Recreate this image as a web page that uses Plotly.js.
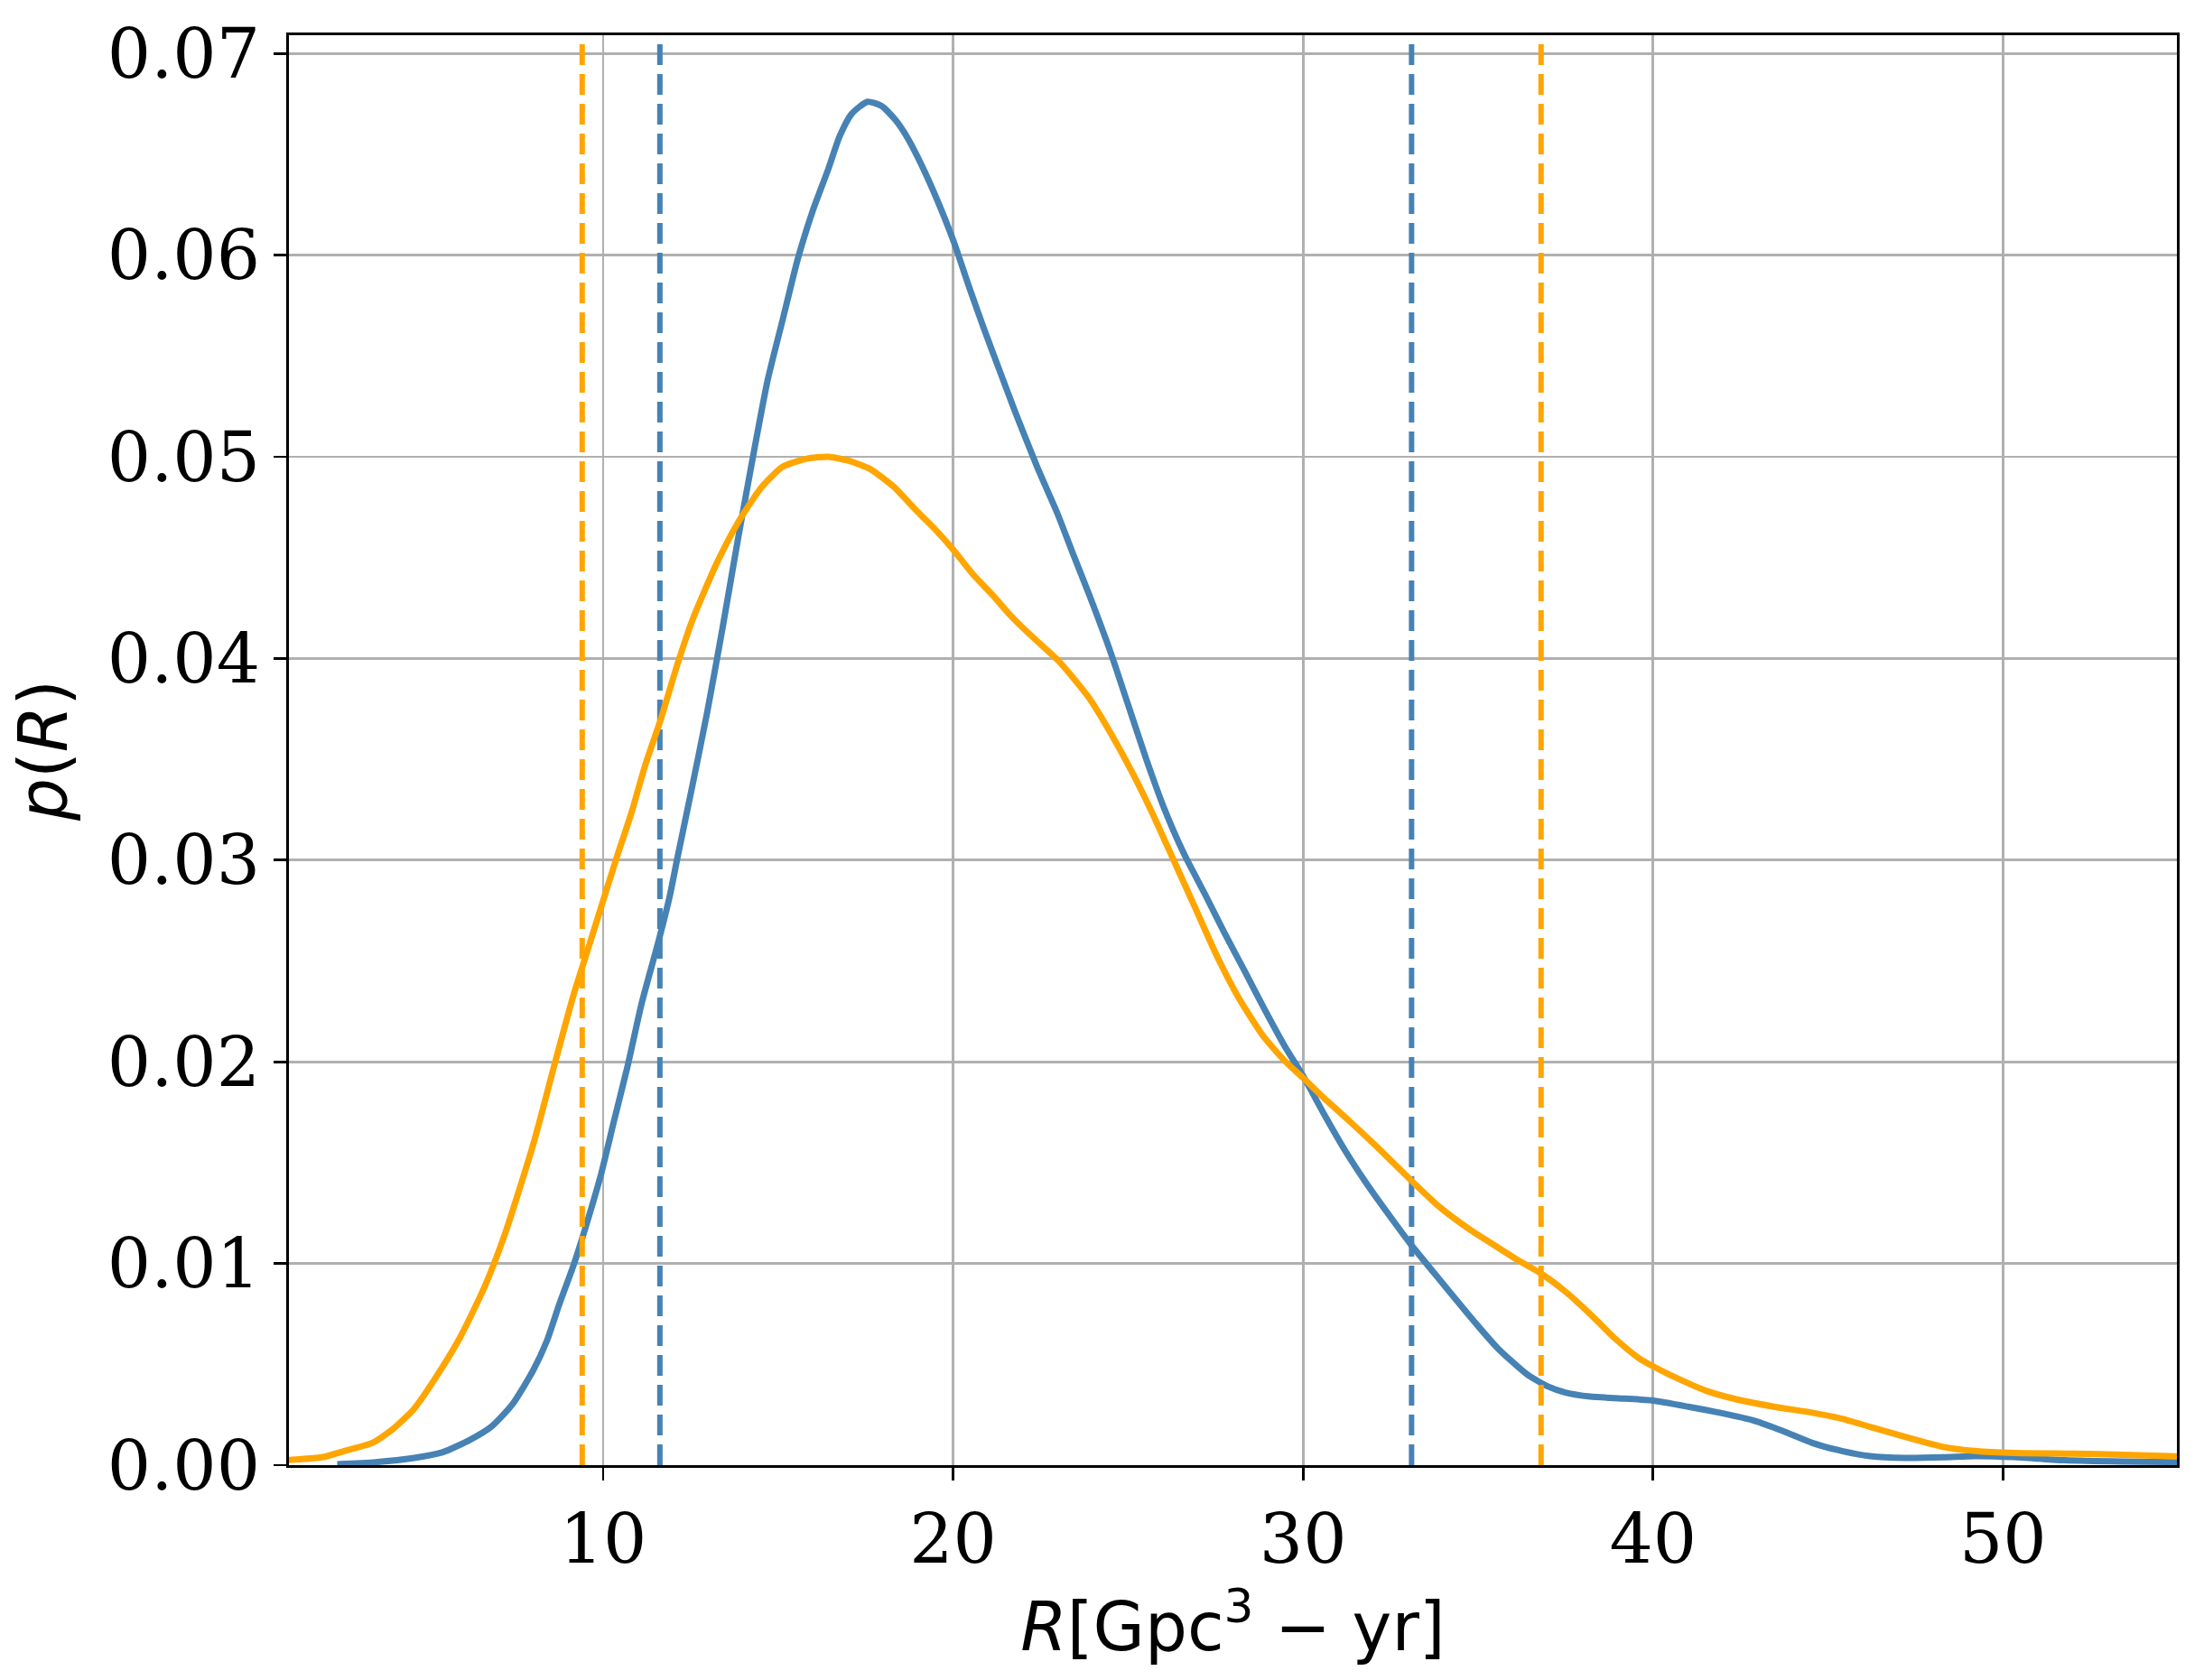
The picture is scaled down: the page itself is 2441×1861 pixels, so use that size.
<!DOCTYPE html>
<html>
<head>
<meta charset="utf-8">
<script src="https://cdn.plot.ly/plotly-3.0.1.min.js"></script>
<style>
  html, body { margin: 0; padding: 0; background: #ffffff; }
  #chart { width: 2441px; height: 1861px; }
</style>
</head>
<body>
<div id="chart"></div>
<script>
// ---- Data ----
const rBlue = [2.4, 3.5, 4.6, 5.4, 6.2, 6.8, 7.4, 8.0, 8.4, 8.75, 9.15, 9.55, 9.95, 10.3, 10.7, 11.1, 11.6, 11.9, 12.12, 12.55, 12.98, 13.41, 13.84, 14.27, 14.7, 15.13, 15.56, 15.99, 16.42, 16.76, 17.1, 17.55, 17.95, 18.35, 18.7, 19.17, 19.6, 20.03, 20.46, 20.89, 21.3, 21.8, 22.4, 22.7, 23.0, 23.4, 23.9, 24.5, 25.0, 25.5, 26.0, 26.6, 27.2, 27.75, 28.3, 28.9, 29.5, 30.0, 30.6, 31.2, 31.8, 32.5, 33.1, 33.9, 34.95, 35.56, 36.4, 37.0, 37.5, 38.2, 39.2, 40.0, 41.0, 41.9, 42.9, 43.7, 44.55, 45.4, 46.2, 47.2, 48.3, 49.2, 50.3, 51.7, 53.4, 55.0];
const pBlue = [0.00005, 0.00015, 0.00036, 0.00063, 0.00126, 0.0019, 0.0030, 0.0047, 0.0062, 0.0080, 0.0099, 0.0121, 0.0145, 0.0170, 0.0198, 0.0229, 0.0261, 0.0282, 0.0301, 0.0337, 0.0374, 0.0415, 0.0458, 0.0499, 0.0538, 0.0568, 0.0598, 0.0622, 0.0642, 0.0659, 0.0670, 0.0676, 0.0674, 0.0667, 0.0658, 0.0642, 0.0625, 0.0606, 0.0584, 0.0563, 0.0544, 0.0521, 0.0495, 0.0483, 0.0471, 0.0453, 0.0431, 0.0403, 0.0377, 0.0351, 0.0327, 0.0303, 0.0283, 0.0264, 0.0246, 0.0226, 0.0207, 0.0193, 0.0174, 0.0156, 0.0140, 0.0123, 0.0109, 0.0092, 0.0070, 0.0058, 0.0045, 0.0039, 0.0036, 0.0034, 0.0033, 0.0032, 0.0029, 0.0026, 0.0022, 0.0017, 0.0011, 0.0007, 0.00045, 0.00036, 0.00039, 0.00045, 0.0004, 0.00025, 0.00018, 0.00015];

const rOrange = [1.0, 2.0, 2.6, 3.4, 4.0, 4.6, 5.2, 5.9, 6.6, 7.2, 8.0, 8.6, 9.15, 9.55, 10.0, 10.4, 10.8, 11.2, 11.65, 12.12, 12.55, 13.24, 13.84, 14.53, 15.13, 15.82, 16.42, 17.02, 17.62, 18.31, 18.91, 19.43, 20.0, 20.55, 21.15, 21.6, 22.0, 22.5, 23.0, 23.4, 23.9, 24.5, 25.1, 25.7, 26.3, 26.9, 27.55, 28.15, 28.85, 29.5, 30.0, 30.6, 31.3, 32.1, 33.1, 33.9, 34.75, 35.56, 36.2, 36.8, 37.5, 38.2, 38.9, 39.6, 40.0, 40.7, 41.5, 42.3, 43.45, 44.55, 45.4, 46.2, 47.2, 48.3, 49.2, 50.3, 52.0, 53.4, 55.0];
const pOrange = [0.00025, 0.0004, 0.0007, 0.0011, 0.0018, 0.0028, 0.0043, 0.0063, 0.0088, 0.0115, 0.0159, 0.0198, 0.0233, 0.0255, 0.0280, 0.0302, 0.0323, 0.0347, 0.0370, 0.0397, 0.0419, 0.0447, 0.0467, 0.0485, 0.0495, 0.0499, 0.0500, 0.0498, 0.0494, 0.0485, 0.0474, 0.0465, 0.0454, 0.0442, 0.0431, 0.0422, 0.0415, 0.0407, 0.0399, 0.0391, 0.0380, 0.0363, 0.0344, 0.0323, 0.0300, 0.0277, 0.0252, 0.0232, 0.0213, 0.0200, 0.0192, 0.0182, 0.0171, 0.0158, 0.0141, 0.0128, 0.0117, 0.0108, 0.0101, 0.0095, 0.0086, 0.0075, 0.0063, 0.0053, 0.0049, 0.0043, 0.0037, 0.0033, 0.0029, 0.0026, 0.0023, 0.0019, 0.0014, 0.0009, 0.0007, 0.0006, 0.00057, 0.00052, 0.00043];

const blueBounds = [11.62, 33.1];
const orangeBounds = [9.40, 36.8];

const xRange = [1.02, 54.97];
const yRange = [0, 0.0709];
const xTickVals = [10, 20, 30, 40, 50];
const yTickVals = [0.00, 0.01, 0.02, 0.03, 0.04, 0.05, 0.06, 0.07];

// ---- Styles ----
const BLUE = '#4682B4';
const ORANGE = '#FFA500';
const LW = 7;
const DASH = '23px,10px';

function vline(x, color) {
  return {
    x: [x, x], y: [yRange[0], yRange[1]],
    mode: 'lines', type: 'scatter',
    line: { color: color, width: 6, dash: DASH },
    hoverinfo: 'skip', showlegend: false, cliponaxis: true
  };
}

const traces = [
  { x: rBlue, y: pBlue, mode: 'lines', type: 'scatter',
    line: { color: BLUE, width: LW, shape: 'spline', smoothing: 0.6 }, showlegend: false },
  vline(blueBounds[0], BLUE), vline(blueBounds[1], BLUE),
  { x: rOrange, y: pOrange, mode: 'lines', type: 'scatter',
    line: { color: ORANGE, width: LW, shape: 'spline', smoothing: 0.6 }, showlegend: false },
  vline(orangeBounds[0], ORANGE), vline(orangeBounds[1], ORANGE)
];

const tickFont = { family: 'DejaVu Serif', size: 76, color: '#000000' };
const labelFont = { family: 'DejaVu Sans', size: 74, color: '#000000' };

const layout = {
  width: 2441, height: 1861,
  paper_bgcolor: '#ffffff', plot_bgcolor: '#ffffff',
  margin: { l: 320, r: 30, t: 39, b: 238, pad: 0 },
  showlegend: false,
  xaxis: {
    range: xRange, tickmode: 'array', tickvals: xTickVals, ticktext: xTickVals.map(String),
    showgrid: true, gridcolor: '#b0b0b0', gridwidth: 2.8, zeroline: false,
    showline: true, linecolor: '#000000', linewidth: 2.8, mirror: true,
    ticks: 'outside', ticklen: 14, tickwidth: 2.8, tickcolor: '#000000',
    tickfont: tickFont, automargin: false,
    title: { text: '<i>R</i>[Gpc<sup>3</sup> − yr]', font: labelFont, standoff: 20 }
  },
  yaxis: {
    range: yRange, tickmode: 'array', tickvals: yTickVals, ticktext: yTickVals.map(v => v.toFixed(2)),
    showgrid: true, gridcolor: '#b0b0b0', gridwidth: 2.8, zeroline: false,
    showline: true, linecolor: '#000000', linewidth: 2.8, mirror: true,
    ticks: 'outside', ticklen: 14, tickwidth: 2.8, tickcolor: '#000000',
    tickfont: tickFont, automargin: false,
    title: { text: '<i>p</i>(<i>R</i>)', font: labelFont, standoff: 20 }
  }
};

Plotly.newPlot('chart', traces, layout, { staticPlot: true, displayModeBar: false });
</script>
</body>
</html>
